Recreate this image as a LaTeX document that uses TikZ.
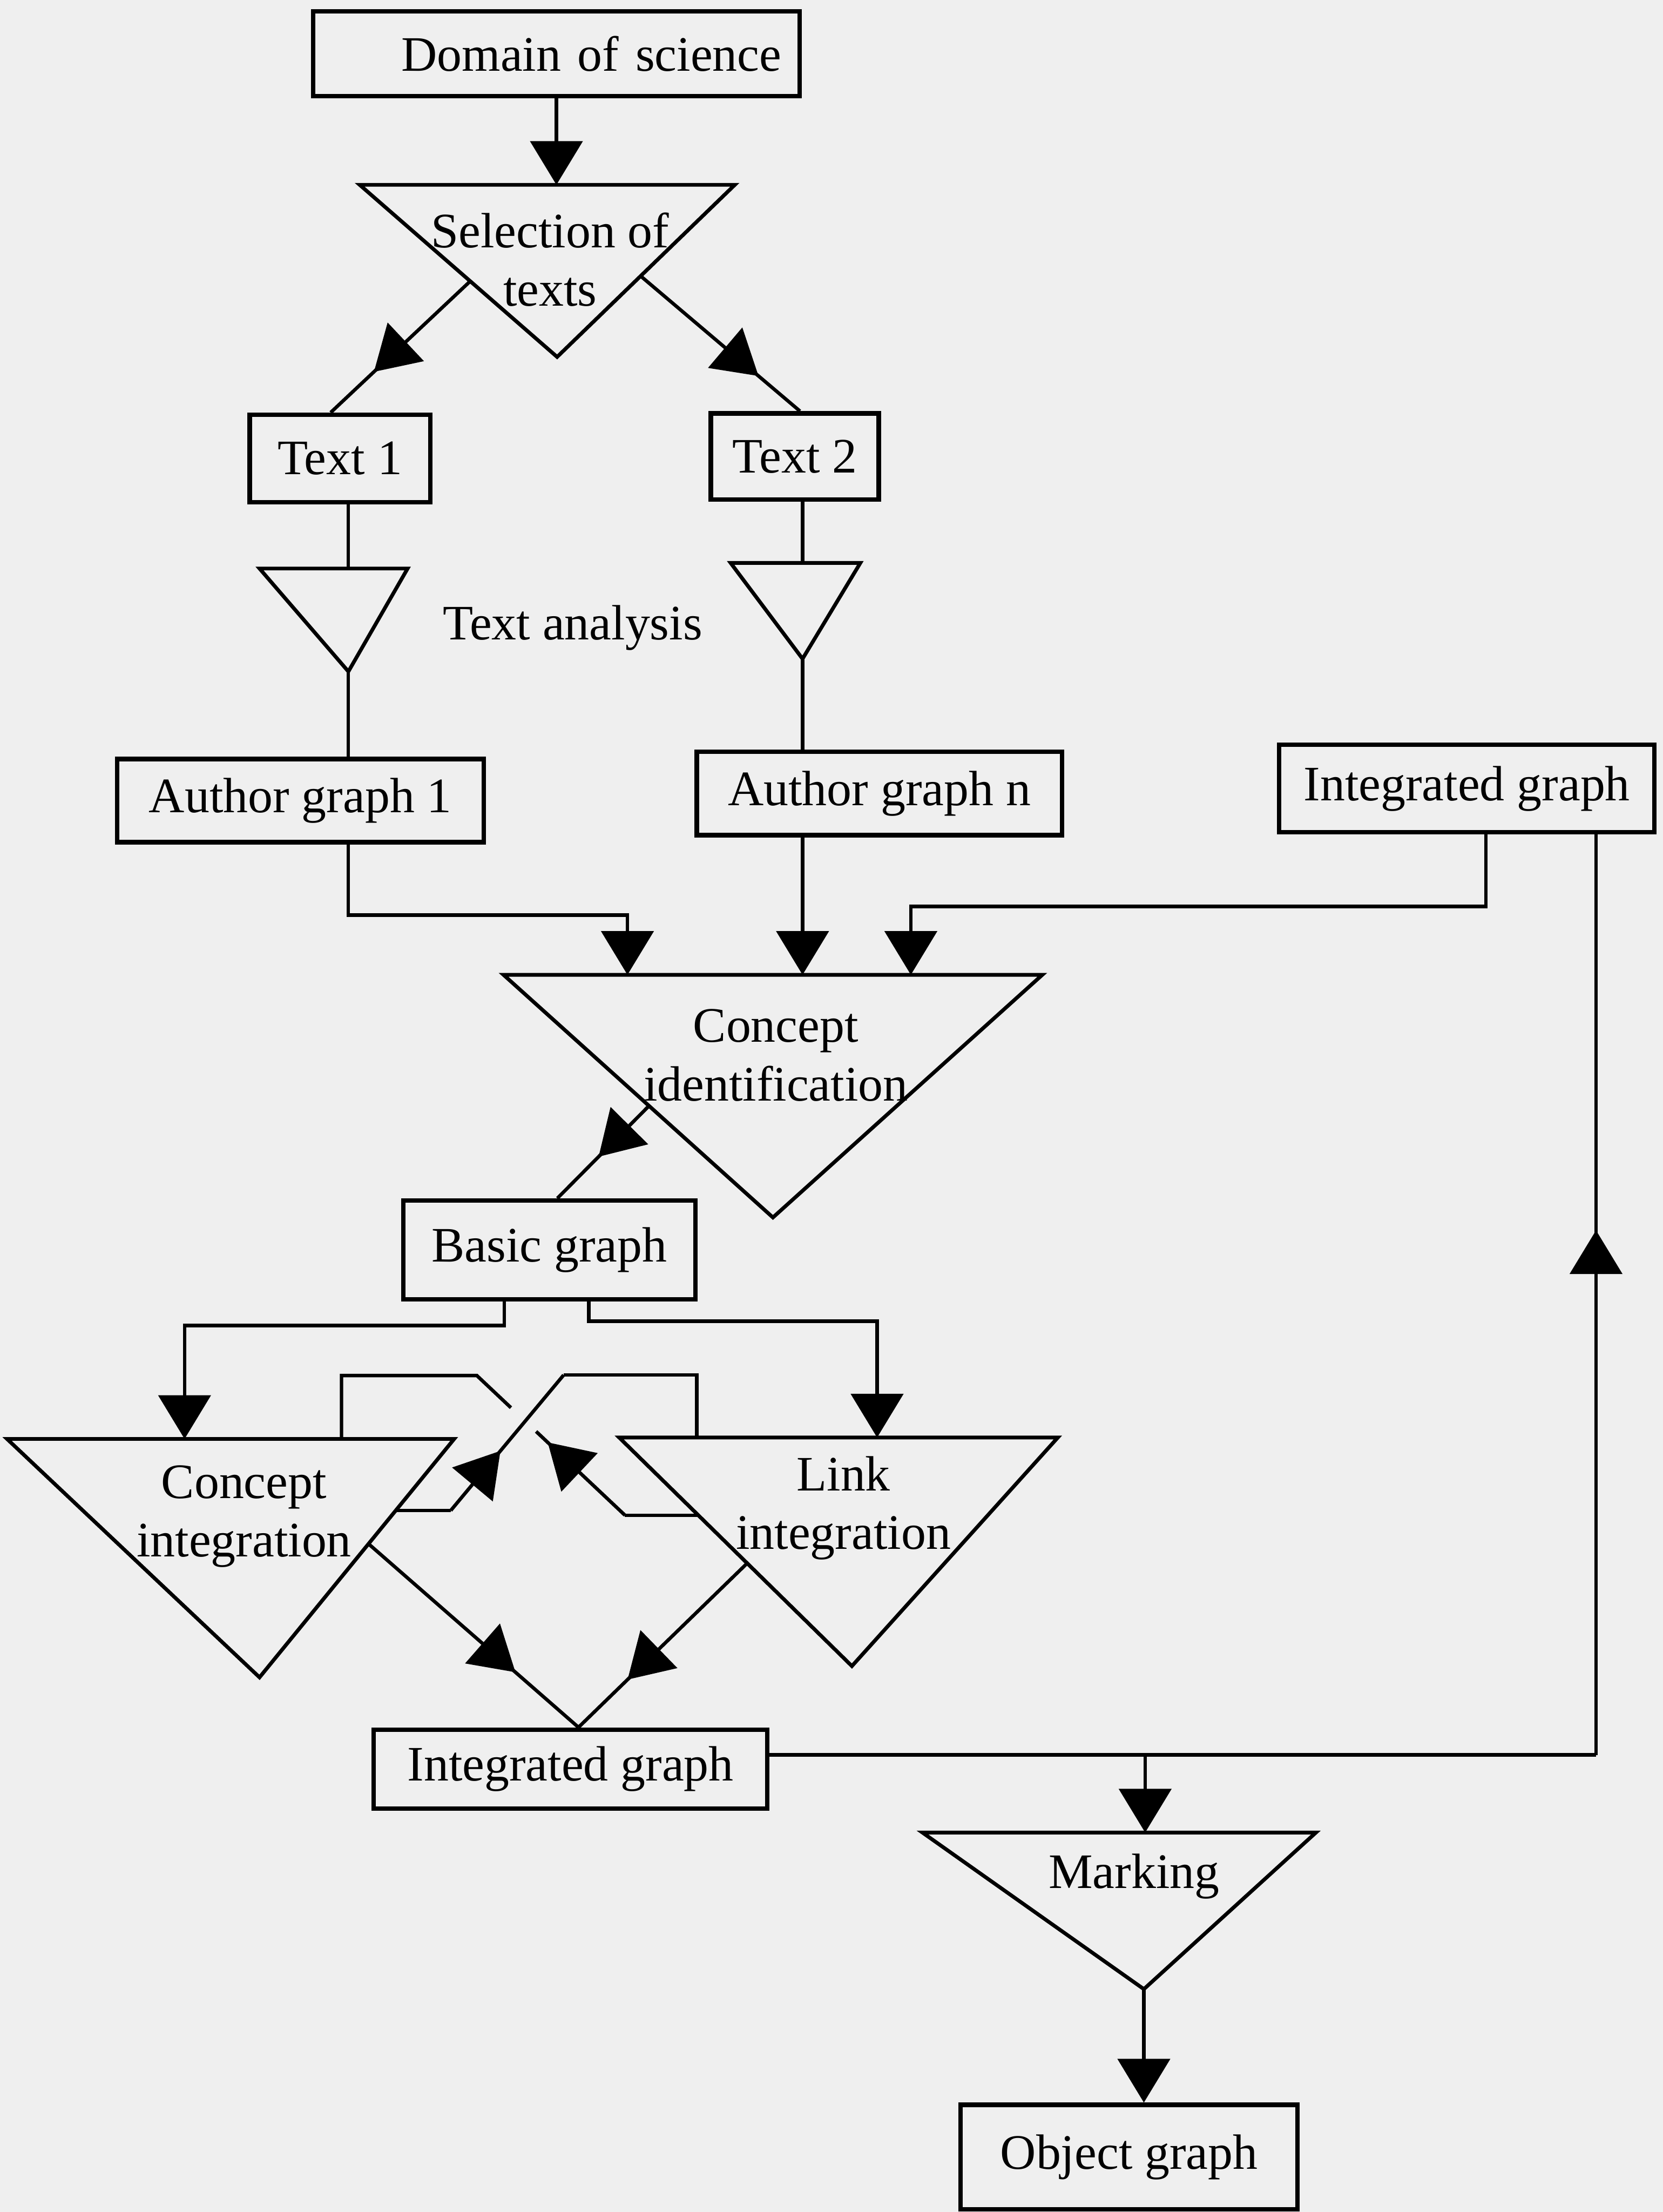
\documentclass[tikz,border=0pt]{standalone}
\usepackage{fontspec}
\setmainfont{Liberation Serif}
\usetikzlibrary{arrows.meta,calc,decorations.markings}

\definecolor{paper}{RGB}{239,239,239}

\begin{document}
\begin{tikzpicture}[x=0.1mm, y=-0.1mm,
    every node/.style={font=\fontsize{10}{11.8}\selectfont},
    >={Triangle[length=3.1mm,width=3.7mm]},
    box/.style={draw, line width=0.9pt, inner sep=0pt, align=center},
    tri/.style={draw, line width=0.75pt, line join=miter},
    conn/.style={line width=0.7pt},
    midarrow/.style={postaction={decorate}, decoration={markings, mark=at position #1 with {\arrow{>}}}}]
        \useasboundingbox (0,0) rectangle (1179,1568);
        \fill[paper] (0,0) rectangle (1179,1568);

        \node[box, minimum width=34.5mm, minimum height=6mm, text width=31.9mm, align=right] (dom) at (394.5,38) {Domain of science};
        \node[box, minimum width=12.8mm, minimum height=6.2mm] (txt1) at (241,325) {Text 1};
        \node[box, minimum width=11.9mm, minimum height=6.1mm] (txt2) at (563.5,323.5) {Text 2};
        \node[box, minimum width=26mm, minimum height=5.9mm] (ag1) at (213,567.5) {Author graph 1};
        \node[box, minimum width=25.9mm, minimum height=5.9mm] (agn) at (623.5,562.5) {Author graph n};
        \node[box, minimum width=26.6mm, minimum height=6.2mm] (igt) at (1040,559) {Integrated graph};
        \node[box, minimum width=20.7mm, minimum height=7mm] (bas) at (389.5,886) {Basic graph};
        \node[box, minimum width=27.9mm, minimum height=5.6mm] (igb) at (404.5,1254) {Integrated graph};
        \node[box, minimum width=23.9mm, minimum height=7.4mm] (obj) at (800.5,1529) {Object graph};

        \coordinate (sel-l) at (255,131);
        \coordinate (sel-r) at (521,131);
        \coordinate (sel-b) at (395,253);
        \draw[tri] (sel-l) -- (sel-r) -- (sel-b) -- cycle;
        \node[align=center] (sel) at (390,184) {Selection of\\texts};

        \coordinate (ta1-l) at (184,403);
        \coordinate (ta1-r) at (289,403);
        \coordinate (ta1-b) at (247,476);
        \draw[tri] (ta1-l) -- (ta1-r) -- (ta1-b) -- cycle;
        \coordinate (ta2-l) at (518,399);
        \coordinate (ta2-r) at (610,399);
        \coordinate (ta2-b) at (569,467);
        \draw[tri] (ta2-l) -- (ta2-r) -- (ta2-b) -- cycle;
        \node (tan) at (406,445) {Text analysis};

        \coordinate (cid-l) at (357,691);
        \coordinate (cid-r) at (739,691);
        \coordinate (cid-b) at (548,863);
        \draw[tri] (cid-l) -- (cid-r) -- (cid-b) -- cycle;
        \node[align=center] (cid) at (550,748) {Concept\\identification};

        \coordinate (cin-l) at (5,1020);
        \coordinate (cin-r) at (322,1020);
        \coordinate (cin-b) at (184,1189);
        \draw[tri] (cin-l) -- (cin-r) -- (cin-b) -- cycle;
        \node[align=center] (cin) at (173,1075) {Concept\\integration};

        \coordinate (lin-l) at (439,1019);
        \coordinate (lin-r) at (750,1019);
        \coordinate (lin-b) at (604,1181);
        \draw[tri] (lin-l) -- (lin-r) -- (lin-b) -- cycle;
        \node[align=center] (lin) at (598,1069) {Link\\integration};

        \coordinate (mrk-l) at (654,1299);
        \coordinate (mrk-r) at (933,1299);
        \coordinate (mrk-b) at (811,1410);
        \draw[tri] (mrk-l) -- (mrk-r) -- (mrk-b) -- cycle;
        \node (mrk) at (804,1330) {Marking};

        \draw[conn, ->] (dom.south) -- (dom.south |- sel-l);
        \coordinate (sel-sl) at ($(sel-l)!0.56!(sel-b)$);
        \coordinate (sel-sr) at ($(sel-r)!0.53!(sel-b)$);
        \draw[conn, midarrow=0.69] (sel-sl) -- ($(txt1.north west)!0.45!(txt1.north east)$);
        \draw[conn, midarrow=0.74] (sel-sr) -- ($(txt2.north west)!0.53!(txt2.north east)$);

        \draw[conn] (txt1.south -| ta1-b) -- (ta1-b |- ta1-l);
        \draw[conn] (ta1-b) -- (ta1-b |- ag1.north);
        \draw[conn] (txt2.south -| ta2-b) -- (ta2-b |- ta2-l);
        \draw[conn] (ta2-b) -- (ta2-b |- agn.north);

        \coordinate (cid-in1) at ($(cid-l)!0.23!(cid-r)$);
        \coordinate (cid-in3) at ($(cid-l)!0.756!(cid-r)$);
        \draw[conn, ->] (ag1.south -| ta1-b) -- ++(0,50) -| (cid-in1);
        \draw[conn, ->] (agn.south -| ta2-b) -- (ta2-b |- cid-l);
        \draw[conn, ->] ($(igt.south west)!0.55!(igt.south east)$) -- ++(0,51) -| (cid-in3);

        \coordinate (cid-out) at ($(cid-l)!0.54!(cid-b)$);
        \draw[conn, midarrow=0.55] (cid-out) -- ($(bas.north west)!0.527!(bas.north east)$);

        \draw[conn, ->] ($(bas.south west)!0.348!(bas.south east)$) -- ++(0,17) -| ($(cin-l)!0.397!(cin-r)$);
        \draw[conn, ->] ($(bas.south west)!0.633!(bas.south east)$) -- ++(0,14) -| ($(lin-l)!0.588!(lin-r)$);

        \coordinate (lin-x) at ($(lin-l)!0.34!(lin-b)$);
        \draw[conn] (lin-x) -- ++(-52,0) coordinate (ax1);
        \coordinate (ax2) at ($(ax1)+(-105,-99)$);
        \draw[conn, midarrow=0.87] (ax1) -- ($(ax1)!0.60!(ax2)$);
        \draw[conn] ($(ax1)!0.77!(ax2)$) -- (ax2) -| ($(cin-l)!0.748!(cin-r)$);

        \coordinate (cin-x) at ($(cin-r)!0.30!(cin-b)$);
        \draw[conn] (cin-x) -- ++(39,0) coordinate (bx1);
        \draw[conn, midarrow=0.44] (bx1) -- ++(80,-96) coordinate (bx2);
        \draw[conn] (bx2) -| ($(lin-l)!0.177!(lin-r)$);

        \coordinate (igb-in) at ($(igb.north west)!0.52!(igb.north east)$);
        \draw[conn, midarrow=0.7] ($(cin-r)!0.44!(cin-b)$) -- (igb-in);
        \draw[conn, midarrow=0.71] ($(lin-l)!0.55!(lin-b)$) -- (igb-in);

        \coordinate (mrk-in) at ($(mrk-l)!0.566!(mrk-r)$);
        \draw[conn, ->] ($(igb.east)+(0,-10)$) -| (mrk-in);
        \draw[conn] ($(igb.east)+(0,-10)$) -- ++(586,0) coordinate (fb);
        \coordinate (igt-in) at ($(igt.south west)!0.838!(igt.south east)$);
        \draw[conn, midarrow=0.57] (fb) -- (fb |- igt-in);

        \draw[conn, ->] (mrk-b) -- (mrk-b |- obj.north);
    \end{tikzpicture}
\end{document}
